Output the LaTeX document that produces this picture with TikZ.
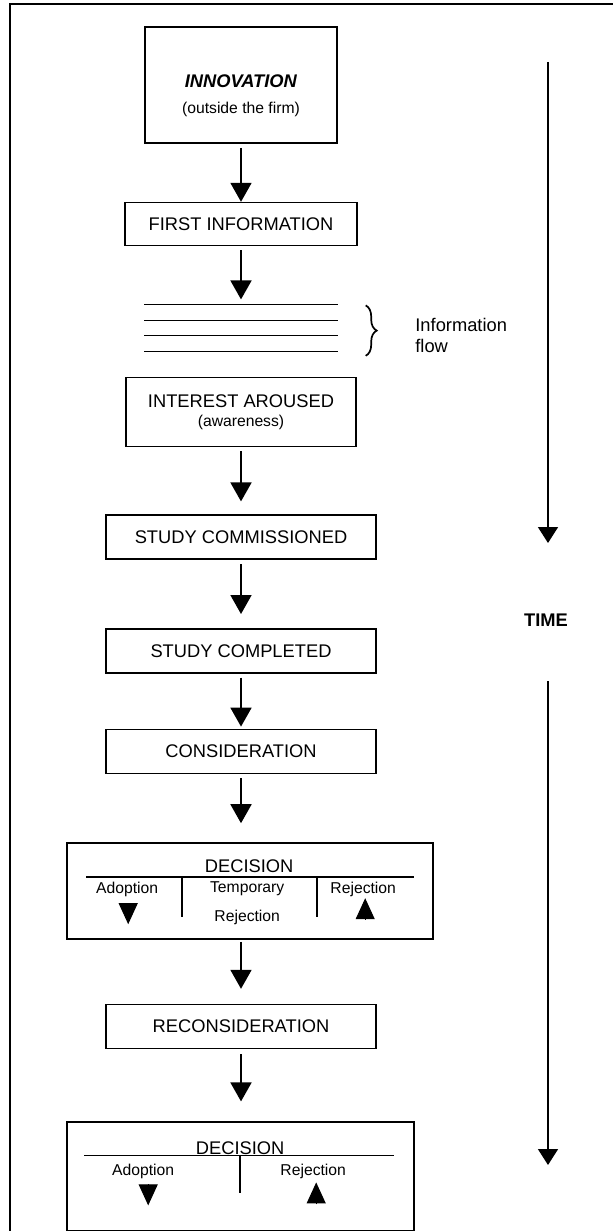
\documentclass[tikz,border=0pt]{standalone}
\usepackage{fontspec}
\setmainfont{Liberation Sans}
\usetikzlibrary{positioning,arrows.meta,calc,decorations.pathreplacing}
\newcommand{\bigf}{\fontsize{18.3pt}{21pt}\selectfont}
\newcommand{\smallf}{\fontsize{15.7pt}{18pt}\selectfont}
\tikzset{
  box/.style={draw, line width=1.6pt, inner sep=0pt, align=center, font=\bigf},
  arr/.style={-{Triangle[width=21pt,length=19pt]}, line width=1.8pt},
  tarr/.style={-{Triangle[width=20pt,length=16pt]}, line width=1.6pt},
  tri/.style={-{Triangle[width=19pt,length=21pt]}, line width=1pt},
  rule/.style={line width=1.6pt},
  lbl/.style={inner sep=0pt, font=\smallf},
}

\begin{document}
\begin{tikzpicture}[x=1pt, y=-1pt]
  \useasboundingbox (0,0) rectangle (613,1231);
  \draw[rule] (10,1231) -- (10,4) -- (613,4);

  \node[box, minimum width=192pt, minimum height=116pt] (innov) at (241,85) {};
  \node[align=center, font=\bigf, inner sep=0pt] (innovt) at ($(innov.center)+(0,11)$)
    {\textbf{\textit{INNOVATION}}\\[5pt]{\smallf (outside the firm)}};
  \node[box, minimum width=232pt, minimum height=43pt, below=58pt of innov] (first) {FIRST INFORMATION};
  \node[minimum width=193pt, minimum height=47pt, inner sep=0pt, below=58pt of first] (flow) {};
  \node[box, minimum width=230pt, minimum height=69pt, below=25pt of flow] (interest)
    {INTEREST AROUSED\\[-2pt]{\smallf (awareness)}};
  \node[box, minimum width=270pt, minimum height=44pt, below=67pt of interest] (studyc) {STUDY COMMISSIONED};
  \node[box, minimum width=270pt, minimum height=44pt, below=68pt of studyc] (studyd) {STUDY COMPLETED};
  \node[box, minimum width=270pt, minimum height=44pt, below=55pt of studyd] (consid) {CONSIDERATION};
  \node[box, minimum width=366pt, minimum height=96pt, below=68pt of consid, xshift=9pt] (dec1) {};
  \node[box, minimum width=270pt, minimum height=44pt, below=64pt of dec1, xshift=-9pt] (recons) {RECONSIDERATION};
  \node[box, minimum width=347pt, minimum height=109pt, below=72pt of recons, xshift=-0.5pt] (dec2) {};

  % information flow
  \foreach \dy in {0,16,31,47}
    \draw[rule] ($(flow.north west)+(0,\dy)$) -- ($(flow.north east)+(0,\dy)$);
  \draw[decorate, decoration={brace, amplitude=11pt}, line width=1.7pt]
    ($(flow.north east)+(28,1)$) -- ($(flow.south east)+(28,4)$);
  \node[anchor=west, align=left, font=\bigf, inner sep=0pt] (info) at ($(flow.east)+(77.5,7)$) {Information\\flow};

  \draw[arr, shorten <=4pt] (innov.south) -- (first.north);
  \draw[arr, shorten <=4pt, shorten >=5pt] (first.south) -- (flow.north);
  \draw[arr, shorten <=4pt, shorten >=13pt] (interest.south) -- (studyc.north);
  \draw[arr, shorten <=4pt, shorten >=14pt] (studyc.south) -- (studyd.north);
  \draw[arr, shorten <=4pt, shorten >=2pt] (studyd.south) -- (consid.north);
  \draw[arr, shorten <=4pt, shorten >=19pt] (consid.south) -- (consid.south |- dec1.north);
  \draw[arr, shorten <=2pt, shorten >=15pt] (recons.north |- dec1.south) -- (recons.north);
  \draw[arr, shorten <=5pt, shorten >=20pt] (recons.south) -- (recons.south |- dec2.north);

  % first decision
  \node[font=\bigf, inner sep=0pt] (d1t) at ($(dec1.north west)+(183,24)$) {DECISION};
  \draw[rule] ($(dec1.north west)+(20,35)$) -- ($(dec1.north west)+(348,35)$);
  \draw[rule] ($(dec1.north west)+(116,35)$) -- ($(dec1.north west)+(116,75)$);
  \draw[rule] ($(dec1.north west)+(251,35)$) -- ($(dec1.north west)+(251,75)$);
  \node[lbl] (d1a) at ($(dec1.north west)+(61,47)$) {Adoption};
  \node[lbl] (d1m) at ($(dec1.north west)+(181,47)$) {Temporary};
  \node[lbl] (d1mb) at ($(dec1.north west)+(181,75)$) {Rejection};
  \node[lbl] (d1r) at ($(dec1.north west)+(297,47)$) {Rejection};
  \draw[tri] ($(dec1.north west)+(62,61)$) -- ($(dec1.north west)+(62,82)$);
  \draw[tri] ($(dec1.north west)+(299,77)$) -- ($(dec1.north west)+(299,56)$);

  % second decision
  \node[font=\bigf, inner sep=0pt] (d2t) at ($(dec2.north west)+(174,27)$) {DECISION};
  \draw[rule] ($(dec2.north west)+(18,34)$) -- ($(dec2.north west)+(328,34)$);
  \draw[rule] ($(dec2.north west)+(174,34)$) -- ($(dec2.north west)+(174,72)$);
  \node[lbl] (d2a) at ($(dec2.north west)+(77,50)$) {Adoption};
  \node[lbl] (d2r) at ($(dec2.north west)+(247,50)$) {Rejection};
  \draw[tri] ($(dec2.north west)+(82,63)$) -- ($(dec2.north west)+(82,84)$);
  \draw[tri] ($(dec2.north west)+(250,83)$) -- ($(dec2.north west)+(250,61)$);

  % time axis
  \coordinate (t1) at (548,62);
  \coordinate (t2) at (548,543);
  \node[font=\bigf\bfseries, inner sep=0pt] (time) at (546,620) {TIME};
  \coordinate (t3) at (548,681);
  \coordinate (t4) at (548,1165);
  \draw[tarr] (t1) -- (t2);
  \draw[tarr] (t3) -- (t4);
\end{tikzpicture}
\end{document}
